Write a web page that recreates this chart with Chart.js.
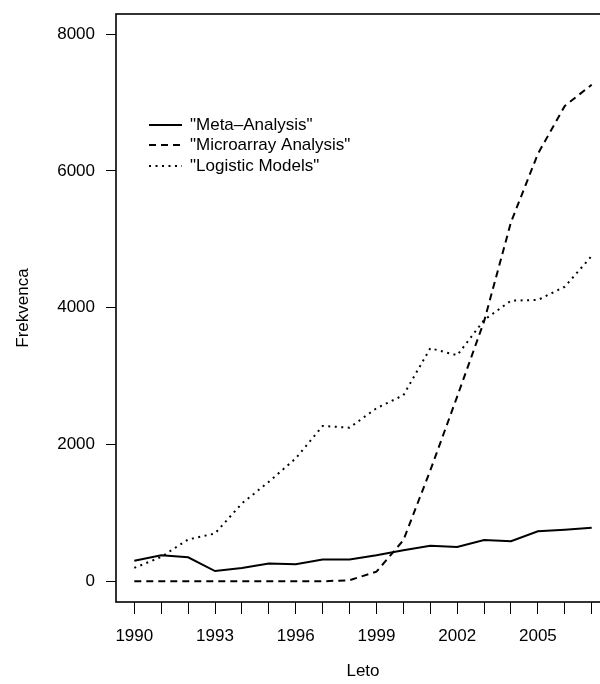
<!DOCTYPE html>
<html>
<head>
<meta charset="utf-8">
<script src="https://cdn.jsdelivr.net/npm/chart.js@4/dist/chart.umd.min.js"></script>
<style>
  html, body { margin: 0; padding: 0; background: #fff; overflow: hidden; }
  #wrap { width: 612px; height: 684px; }
</style>
</head>
<body>
<div id="wrap"><canvas id="c"></canvas></div>
<script>
const years = [1990,1991,1992,1993,1994,1995,1996,1997,1998,1999,2000,2001,2002,2003,2004,2005,2006,2007];
const metaAnalysis = [300,380,350,150,195,260,250,318,318,381,455,521,502,604,585,731,755,784];
const microarrayAnalysis = [0,0,0,0,0,0,0,0,15,140,600,1620,2700,3800,5250,6250,6950,7260];
const logisticModels = [195,356,611,699,1138,1455,1797,2271,2246,2530,2720,3407,3304,3820,4103,4113,4307,4756];
const seriesNames = ['"Meta\u2013Analysis"', '"Microarray Analysis"', '"Logistic Models"'];
const yTicks = [0,2000,4000,6000,8000];
const xLabelYears = [1990,1993,1996,1999,2002,2005];
const xTitle = 'Leto';
const yTitle = 'Frekvenca';

const FONT = "'Liberation Sans', Arial, Helvetica, sans-serif";
const pts = arr => years.map((y, i) => ({x: y, y: arr[i]}));

const boxAndLegend = {
  id: 'boxAndLegend',
  afterDatasetsDraw(chart) {
    const {ctx, chartArea: a} = chart;
    ctx.save();
    ctx.strokeStyle = '#000';
    ctx.lineWidth = 1.6;
    ctx.setLineDash([]);
    ctx.strokeRect(a.left, a.top, a.right - a.left, a.bottom - a.top);
    // legend
    const rows = [125, 145, 166];
    ctx.font = '17px ' + FONT;
    ctx.textBaseline = 'middle';
    ctx.textAlign = 'left';
    chart.data.datasets.forEach((ds, i) => {
      const y = rows[i];
      ctx.beginPath();
      ctx.setLineDash(ds.borderDash || []);
      ctx.lineWidth = ds.borderWidth;
      ctx.strokeStyle = ds.borderColor;
      ctx.moveTo(149, y);
      ctx.lineTo(182, y);
      ctx.stroke();
      ctx.setLineDash([]);
      ctx.fillStyle = '#000';
      ctx.fillText(ds.label, 190, y);
    });
    ctx.restore();
  }
};

new Chart(document.getElementById('c'), {
  type: 'line',
  data: {
    datasets: [
      { label: seriesNames[0], data: pts(metaAnalysis), borderColor: '#000', borderWidth: 2, borderDash: [], pointRadius: 0, tension: 0, fill: false },
      { label: seriesNames[1], data: pts(microarrayAnalysis), borderColor: '#000', borderWidth: 2, borderDash: [7,5], pointRadius: 0, tension: 0, fill: false },
      { label: seriesNames[2], data: pts(logisticModels), borderColor: '#000', borderWidth: 2, borderDash: [2,4.5], pointRadius: 0, tension: 0, fill: false }
    ]
  },
  options: {
    responsive: true,
    maintainAspectRatio: false,
    animation: false,
    devicePixelRatio: 1,
    layout: { padding: { top: 14, right: 2, left: 0, bottom: 0 } },
    plugins: { legend: { display: false }, tooltip: { enabled: false } },
    scales: {
      x: {
        type: 'linear',
        min: 1989.32,
        max: 2007.68,
        afterFit: s => { s.height = 82; s.paddingLeft = 0; s.paddingRight = 0; },
        afterBuildTicks: s => { s.ticks = years.map(v => ({value: v})); },
        border: { display: false },
        grid: { drawOnChartArea: false, drawTicks: true, tickLength: 12, color: '#000', lineWidth: 1 },
        ticks: {
          autoSkip: false, maxRotation: 0, padding: 12, color: '#000',
          font: { family: FONT, size: 17 },
          callback: v => xLabelYears.includes(v) ? String(v) : ''
        },
        title: { display: true, text: xTitle, color: '#000', font: { family: FONT, size: 17 }, padding: { top: 0, bottom: 2 } }
      },
      y: {
        min: -303,
        max: 8294,
        afterFit: s => { s.width = 116; s.paddingTop = 0; s.paddingBottom = 0; },
        afterBuildTicks: s => { s.ticks = yTicks.map(v => ({value: v})); },
        border: { display: false },
        grid: { drawOnChartArea: false, drawTicks: true, tickLength: 10, color: '#000', lineWidth: 1 },
        ticks: {
          padding: 11, color: '#000',
          font: { family: FONT, size: 17 },
          callback: v => String(v)
        },
        title: { display: true, text: yTitle, color: '#000', font: { family: FONT, size: 17 }, padding: { top: 13, bottom: 0 } }
      }
    }
  },
  plugins: [boxAndLegend]
});
</script>
</body>
</html>
